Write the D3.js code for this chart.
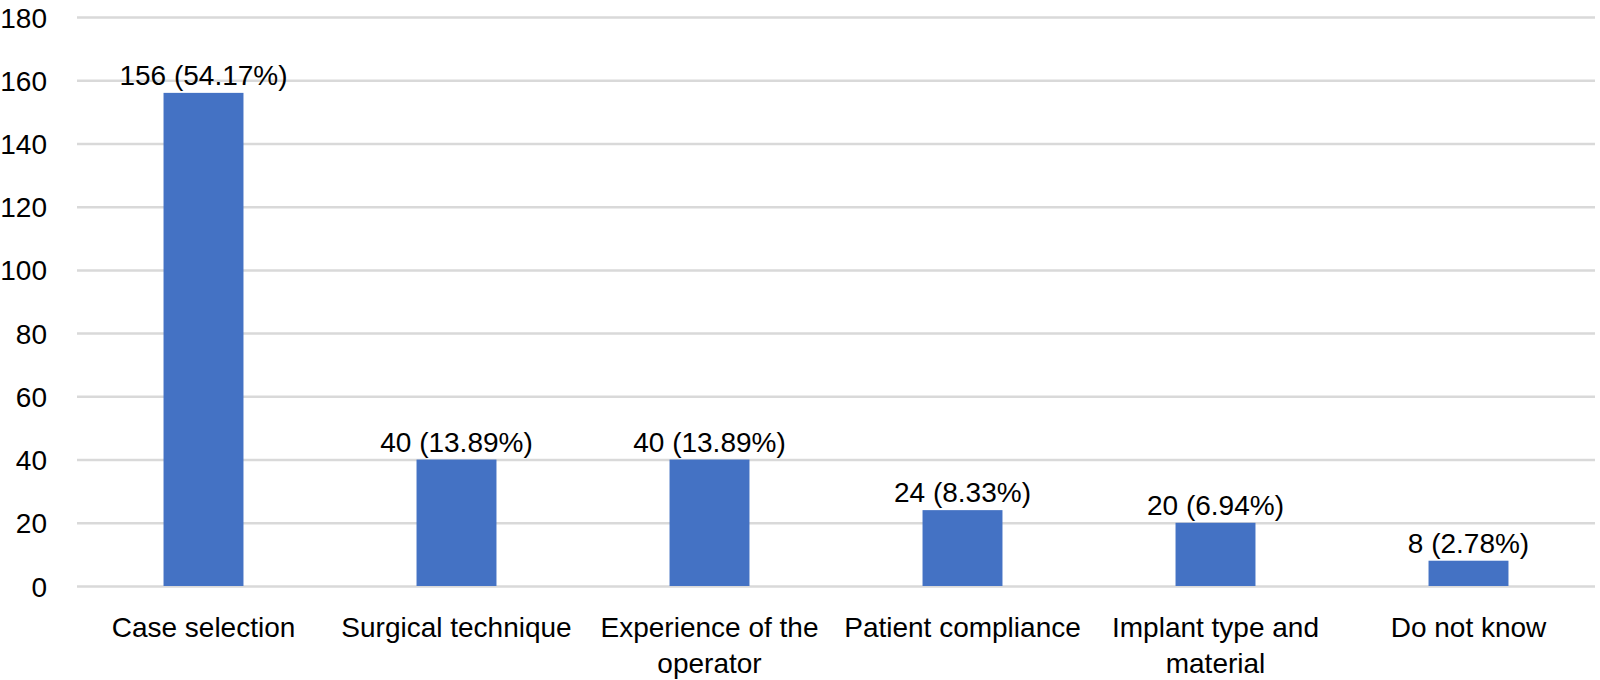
<!DOCTYPE html>
<html>
<head>
<meta charset="utf-8">
<script src="https://cdn.jsdelivr.net/npm/d3@7"></script>
<style>
  html, body { margin: 0; padding: 0; background: #fff; }
  svg { display: block; }
  text { font-family: "Liberation Sans", Arial, sans-serif; fill: #000; }
</style>
</head>
<body>
<svg id="chart" width="1600" height="680"></svg>
<script>
const categories = ["Case selection", "Surgical technique", "Experience of the operator", "Patient compliance", "Implant type and material", "Do not know"];
const counts = [156, 40, 40, 24, 20, 8];
const percentLabels = ["54.17%", "13.89%", "13.89%", "8.33%", "6.94%", "2.78%"];
const yTicks = [0, 20, 40, 60, 80, 100, 120, 140, 160, 180];

const W = 1600, H = 680;
const margin = { top: 17, right: 5, bottom: 94, left: 77 };
const svg = d3.select("#chart");
const FS = 28;

const x = d3.scaleBand()
  .domain(categories)
  .range([margin.left, W - margin.right])
  .paddingInner(0.684)
  .paddingOuter(0.342);

const y = d3.scaleLinear()
  .domain([0, 180])
  .range([H - margin.bottom, margin.top]);

// Gridlines + y tick labels
const yAxis = svg.append("g")
  .attr("transform", `translate(${margin.left},0)`)
  .call(d3.axisLeft(y).tickValues(yTicks).tickSize(-(W - margin.left - margin.right)).tickPadding(30).tickFormat(d3.format("d")));
yAxis.select(".domain").remove();
yAxis.selectAll(".tick line").attr("stroke", "#d9d9d9").attr("stroke-width", 2.5);
yAxis.selectAll(".tick text")
  .style("font-family", '"Liberation Sans", Arial, sans-serif')
  .attr("font-size", FS).attr("fill", "#000").attr("dy", "0.36em");

// Bars
svg.append("g").selectAll("rect")
  .data(counts)
  .join("rect")
  .attr("x", (d, i) => x(categories[i]))
  .attr("y", d => y(d))
  .attr("width", x.bandwidth())
  .attr("height", d => y(0) - y(d))
  .attr("fill", "#4472C4");

// Data labels
svg.append("g").selectAll("text")
  .data(counts)
  .join("text")
  .attr("x", (d, i) => x(categories[i]) + x.bandwidth() / 2)
  .attr("y", d => y(d) - 8)
  .attr("text-anchor", "middle")
  .attr("font-size", FS)
  .text((d, i) => `${d} (${percentLabels[i]})`);

// Category labels with wrapping
const maxW = x.step() - 6;
const catG = svg.append("g");
categories.forEach(c => {
  const t = catG.append("text")
    .attr("x", x(c) + x.bandwidth() / 2)
    .attr("y", y(0) + 51)
    .attr("text-anchor", "middle")
    .attr("font-size", FS);
  const words = c.split(" ");
  let line = [];
  let lineNo = 0;
  let tspan = t.append("tspan").attr("x", x(c) + x.bandwidth() / 2).attr("dy", 0);
  words.forEach(w => {
    line.push(w);
    tspan.text(line.join(" "));
    if (tspan.node().getComputedTextLength() > maxW && line.length > 1) {
      line.pop();
      tspan.text(line.join(" "));
      line = [w];
      lineNo++;
      tspan = t.append("tspan").attr("x", x(c) + x.bandwidth() / 2).attr("dy", 36).text(w);
    }
  });
});
</script>
</body>
</html>
